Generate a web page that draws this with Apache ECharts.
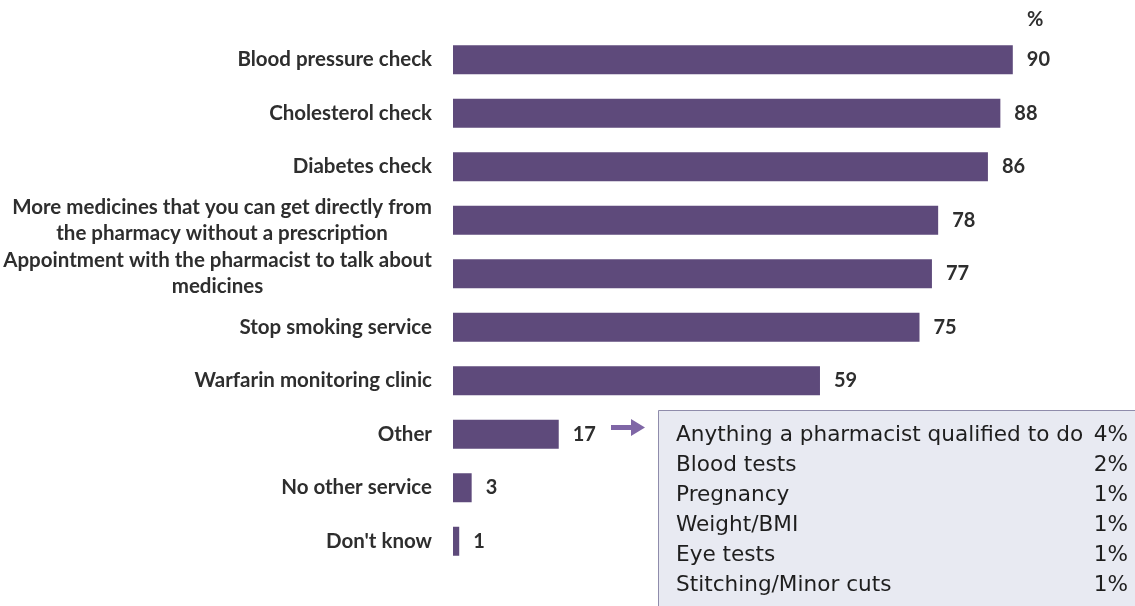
<!DOCTYPE html>
<html>
<head>
<meta charset="utf-8">
<script src="https://cdn.jsdelivr.net/npm/echarts@6/dist/echarts.min.js"></script>
<style>
html,body{margin:0;padding:0;background:#fff;}
#chart{width:1135px;height:606px;}
</style>
</head>
<body>
<div id="chart"></div>
<script>
const categories = [
  'Blood pressure check',
  'Cholesterol check',
  'Diabetes check',
  'More medicines that you can get directly from\nthe pharmacy without a prescription',
  'Appointment with the pharmacist to talk about\nmedicines',
  'Stop smoking service',
  'Warfarin monitoring clinic',
  'Other',
  'No other service',
  "Don't know"
];
const values = [90, 88, 86, 78, 77, 75, 59, 17, 3, 1];
const otherNames = ['Anything a pharmacist qualified to do', 'Blood tests', 'Pregnancy', 'Weight/BMI', 'Eye tests', 'Stitching/Minor cuts'];
const otherPcts = ['4%', '2%', '1%', '1%', '1%', '1%'];

const LABEL_FONT = 'Lato';
const LABEL_SIZE = 20.5;
const TEXT_COLOR = '#2e2e2e';
const BAR_COLOR = '#5e4a7b';
const BOX_FONT = '21.6px "DejaVu Sans"';

// measure text widths for centering multi-line labels
const cv = document.createElement('canvas').getContext('2d');
cv.font = 'bold ' + LABEL_SIZE + 'px ' + LABEL_FONT;
const rich = {};
categories.forEach((c, i) => {
  if (c.indexOf('\n') >= 0) {
    const w = Math.max(...c.split('\n').map(l => cv.measureText(l).width));
    rich['c' + i] = {
      width: Math.ceil(w), align: 'center',
      fontFamily: LABEL_FONT, fontWeight: 'bold', fontSize: LABEL_SIZE,
      color: TEXT_COLOR, lineHeight: 26
    };
  }
});

const chart = echarts.init(document.getElementById('chart'), null, {renderer: 'canvas'});

const graphics = [];
// "%" header
graphics.push({
  type: 'text', left: 1027, top: 10,
  style: {text: '%', font: 'bold 20px Lato', fill: TEXT_COLOR}
});
// breakdown box
graphics.push({
  type: 'rect', z: 1,
  shape: {x: 658.5, y: 410.5, width: 500, height: 220},
  style: {fill: '#e8eaf2', stroke: '#8f8cab', lineWidth: 1}
});
otherNames.forEach((n, i) => {
  graphics.push({
    type: 'text', z: 2, x: 676, y: 435 + i * 30,
    style: {text: n, font: BOX_FONT, fill: '#1e1e1e', textVerticalAlign: 'middle', textAlign: 'left'}
  });
  graphics.push({
    type: 'text', z: 2, x: 1128, y: 435 + i * 30,
    style: {text: otherPcts[i], font: BOX_FONT, fill: '#1e1e1e', textVerticalAlign: 'middle', textAlign: 'right'}
  });
});
// arrow
graphics.push({
  type: 'polygon', z: 2,
  shape: {points: [[611, 425], [631, 425], [631, 419], [645, 427.5], [631, 436], [631, 430], [611, 430]]},
  style: {fill: '#7f66a6'}
});

chart.setOption({
  animation: false,
  grid: {left: 453, right: 60, top: 33, bottom: 38, containLabel: false},
  xAxis: {
    type: 'value', min: 0, max: 100, show: false
  },
  yAxis: {
    type: 'category', data: categories, inverse: true,
    axisLine: {show: false}, axisTick: {show: false}, splitLine: {show: false},
    axisLabel: {
      margin: 21,
      fontFamily: LABEL_FONT, fontWeight: 'bold', fontSize: LABEL_SIZE,
      color: TEXT_COLOR, lineHeight: 26,
      formatter: function (v, i) {
        if (v.indexOf('\n') < 0) return v;
        return v.split('\n').map(l => '{c' + i + '|' + l + '}').join('\n');
      },
      rich: rich
    }
  },
  series: [{
    type: 'bar', data: values, barWidth: 29,
    itemStyle: {color: BAR_COLOR},
    label: {
      show: true, position: 'right', distance: 14,
      fontFamily: LABEL_FONT, fontWeight: 'bold', fontSize: 20, color: TEXT_COLOR
    }
  }],
  graphic: graphics
});
</script>
</body>
</html>
